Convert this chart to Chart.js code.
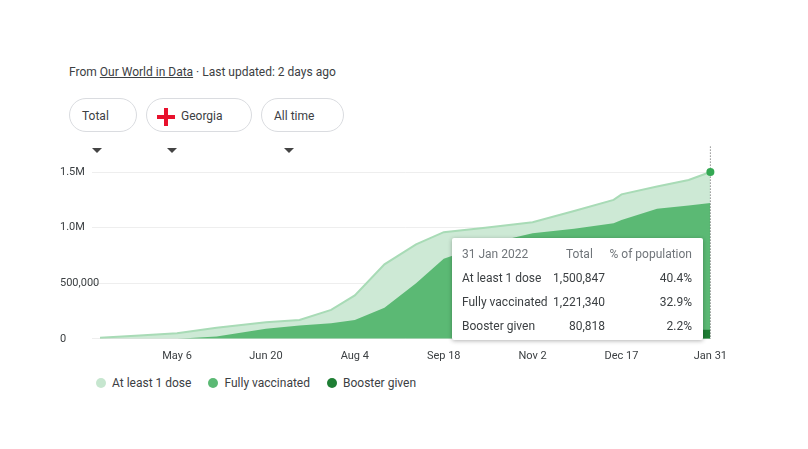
<!DOCTYPE html>
<html>
<head>
<meta charset="utf-8">
<script src="https://cdn.jsdelivr.net/npm/chart.js@4"></script>
<style>
  body { margin: 0; width: 808px; height: 449px; background: #fff; font-family: Roboto, Arial, sans-serif; color: #3c4043; position: relative; overflow: hidden; }
  .src { position: absolute; left: 69px; top: 65px; font-size: 12px; }
  .src u { color: #3c4043; }
  .btn { position: absolute; top: 98px; height: 34px; border: 1px solid #dadce0; border-radius: 18px; font-size: 12px; line-height: 34px; box-sizing: border-box; padding: 0 12px; }
  .btn .car { display: inline-block; width: 0; height: 0; border-left: 5px solid transparent; border-right: 5px solid transparent; border-top: 5px solid #444; margin-left: 10px; vertical-align: middle; }
  #wrap { position: absolute; left: 60px; top: 140px; width: 670px; height: 226px; }
  .tip { position: absolute; left: 452px; top: 238px; width: 251px; height: 102px; background: #fff; box-shadow: 0 1px 4px rgba(0,0,0,0.3); border-radius: 2px; font-size: 12px; }
  .tip div { position: absolute; white-space: nowrap; }
  .legend { position: absolute; top: 376px; left: 96px; font-size: 12px; }
  .legend span.dot { display: inline-block; width: 10px; height: 10px; border-radius: 50%; vertical-align: -1px; margin-right: 6px; }
  .legend span.item { margin-right: 14px; }
</style>
</head>
<body>
<div class="src">From <u>Our World in Data</u> · Last updated: 2 days ago</div>
<div class="btn" style="left:69px;width:68px">Total<span class="car"></span></div>
<div class="btn" style="left:146px;width:106px;padding-left:10px">
  <span style="display:inline-block;width:18px;height:18px;vertical-align:middle;margin-right:6px;background:#fff;position:relative;border-radius:2px">
    <span style="position:absolute;left:7px;top:0;width:4px;height:18px;background:#e8112d"></span>
    <span style="position:absolute;left:0;top:7px;width:18px;height:4px;background:#e8112d"></span>
  </span>Georgia<span class="car"></span></div>
<div class="btn" style="left:261px;width:83px">All time<span class="car"></span></div>
<div id="wrap"><canvas id="grafico"></canvas></div>
<div class="tip">
  <div style="left:10px;top:9px;color:#70757a">31 Jan 2022</div>
  <div style="left:114px;top:9px;color:#70757a">Total</div>
  <div style="right:11px;top:9px;color:#70757a">% of population</div>
  <div style="left:10px;top:33px">At least 1 dose</div>
  <div style="right:98px;top:33px">1,500,847</div>
  <div style="right:11px;top:33px">40.4%</div>
  <div style="left:10px;top:57px">Fully vaccinated</div>
  <div style="right:98px;top:57px">1,221,340</div>
  <div style="right:11px;top:57px">32.9%</div>
  <div style="left:10px;top:81px">Booster given</div>
  <div style="right:98px;top:81px">80,818</div>
  <div style="right:11px;top:81px">2.2%</div>
</div>
<div class="legend">
  <span class="item"><span class="dot" style="background:#c6e6cf"></span>At least 1 dose</span>
  <span class="item"><span class="dot" style="background:#5bb974"></span>Fully vaccinated</span>
  <span class="item"><span class="dot" style="background:#1e7e34"></span>Booster given</span>
</div>
<script>
// giorni dal 28 mar 2021
const giorni = [0, 20, 39, 59, 84, 101, 117, 129, 144, 160, 174, 195, 219, 240, 260, 264, 282, 298, 309];
const almenoUna = [10000, 30000, 50000, 100000, 150000, 170000, 260000, 390000, 670000, 850000, 960000, 1000000, 1050000, 1150000, 1250000, 1300000, 1370000, 1430000, 1500847];
const completi = [0, 0, 0, 20000, 90000, 120000, 140000, 170000, 280000, 500000, 720000, 850000, 950000, 990000, 1040000, 1070000, 1170000, 1200000, 1221340];
const richiamo = [0, 0, 0, 0, 0, 0, 0, 0, 0, 0, 0, 0, 0, 0, 0, 0, 0, 0, 80818];
const tickGiorni = [39, 84, 129, 174, 219, 264, 309];
const tickEtichette = ["May 6", "Jun 20", "Aug 4", "Sep 18", "Nov 2", "Dec 17", "Jan 31"];
const tickValori = [0, 500000, 1000000, 1500000];

const punti = (valori) => giorni.map((g, i) => ({ x: g, y: valori[i] }));
// il richiamo appare solo negli ultimi giorni
const puntiRichiamo = [{ x: 302, y: 0 }, { x: 302.01, y: richiamo[18] }, { x: 309, y: richiamo[18] }];

const lineaVerticale = {
  id: "lineaVerticale",
  afterDatasetsDraw(chart) {
    const { ctx, chartArea, scales } = chart;
    const x = scales.x.getPixelForValue(309);
    ctx.save();
    ctx.strokeStyle = "#555";
    ctx.setLineDash([1, 2]);
    ctx.lineWidth = 1;
    ctx.beginPath();
    ctx.moveTo(x, chartArea.top);
    ctx.lineTo(x, chartArea.bottom);
    ctx.stroke();
    ctx.setLineDash([]);
    ctx.fillStyle = "#34a853";
    ctx.beginPath();
    ctx.arc(x, scales.y.getPixelForValue(almenoUna[almenoUna.length - 1]), 4, 0, Math.PI * 2);
    ctx.fill();
    ctx.restore();
  },
};

new Chart(document.getElementById("grafico"), {
  type: "line",
  data: {
    datasets: [
      { label: "Booster given", data: puntiRichiamo, borderWidth: 0, backgroundColor: "#1e7e34", fill: "origin", pointRadius: 0, order: 1 },
      { label: "Fully vaccinated", data: punti(completi), borderWidth: 0, backgroundColor: "#5bb974", fill: "origin", pointRadius: 0, order: 2 },
      { label: "At least 1 dose", data: punti(almenoUna), borderWidth: 2, borderColor: "#a8dbb6", backgroundColor: "#cde9d5", fill: "origin", pointRadius: 0, order: 3 },
    ],
  },
  plugins: [lineaVerticale],
  options: {
    responsive: true,
    maintainAspectRatio: false,
    animation: false,
    layout: { padding: { top: 5, right: 17 } },
    plugins: { legend: { display: false }, tooltip: { enabled: false } },
    scales: {
      x: {
        type: "linear",
        min: 0,
        max: 309,
        grid: { display: false },
        border: { color: "#ddd" },
        afterBuildTicks: (ax) => { ax.ticks = tickGiorni.map((v) => ({ value: v })); },
        ticks: { color: "#3c4043", font: { size: 11, family: "Roboto, Arial" }, maxRotation: 0, autoSkip: false, callback: (v) => tickEtichette[tickGiorni.indexOf(v)] },
      },
      y: {
        min: 0,
        max: 1730000,
        border: { display: false },
        grid: { color: "#eeeeee" },
        afterBuildTicks: (ax) => { ax.ticks = tickValori.map((v) => ({ value: v })); },
        afterFit: (ax) => { ax.width = 40; },
        ticks: {
          color: "#3c4043", font: { size: 11, family: "Roboto, Arial" }, crossAlign: "far", padding: 0,
          callback: (v) => (v >= 1000000 ? (v / 1000000).toFixed(1) + "M" : v.toLocaleString("en-US")),
        },
      },
    },
  },
});
</script>
</body>
</html>
